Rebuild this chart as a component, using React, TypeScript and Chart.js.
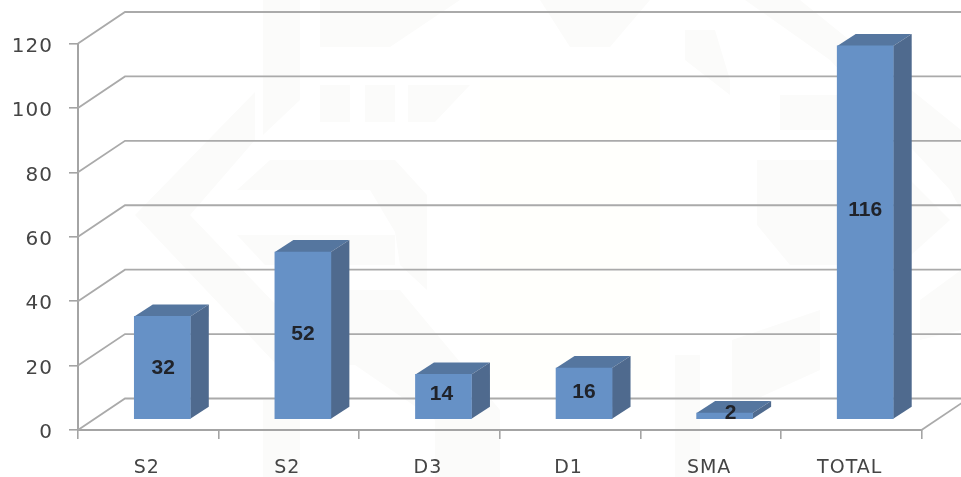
import React, { useEffect, useRef } from "react";
import { Chart, registerables } from "chart.js";

Chart.register(...registerables);

const categories = ["S2", "S2", "D3", "D1", "SMA", "TOTAL"];
const seriesValues = [32, 52, 14, 16, 2, 116];
const yMax = 120;
const yStep = 20;

const COLORS = {
  front: "#6691c6",
  side: "#4f6a8e",
  top: "#55769f",
  grid: "#aaaaaa",
  axis: "#a4a4a4",
  tick: "#454545",
  label: "#20232a",
  mark: "#fbfbfa",
  cream: "#fffffc",
};

const WALL = { dx: 47, dy: -31.5 };
const BAR_SHIFT = { dx: 14, dy: -10.5 };
const BAR_DEPTH = { dx: 18.5, dy: -12 };
const LABEL_NUDGE = [
  [1, 1],
  [0, -1],
  [-2, -2],
  [0, -1],
  [6, -3],
  [0, -22],
];

const watermark: number[][] = [
  [263, 0, 300, 0, 300, 100, 263, 135],
  [320, 0, 460, 0, 390, 47, 320, 47],
  [320, 85, 350, 85, 350, 122, 320, 122],
  [365, 85, 395, 85, 395, 122, 365, 122],
  [408, 85, 470, 85, 435, 122, 408, 122],
  [255, 92, 255, 140, 190, 215, 300, 330, 340, 375, 340, 400, 310, 400, 135, 215],
  [270, 160, 395, 160, 427, 195, 427, 290, 400, 265, 395, 232, 370, 190, 237, 190],
  [237, 235, 395, 235, 395, 265, 265, 265],
  [300, 290, 400, 290, 500, 410, 500, 477, 435, 477, 435, 420, 355, 365, 300, 365],
  [263, 400, 300, 400, 300, 477, 263, 477],
  [685, 0, 745, 0, 830, 60, 950, 190, 961, 210, 961, 130, 800, 0],
  [540, 0, 650, 0, 610, 47, 570, 47],
  [685, 30, 715, 30, 730, 80, 730, 130, 730, 95, 685, 60],
  [780, 95, 840, 95, 840, 130, 780, 130],
  [757, 160, 890, 160, 950, 220, 900, 265, 790, 265, 757, 225],
  [732, 340, 820, 310, 820, 370, 732, 410],
  [675, 355, 700, 355, 700, 477, 675, 477],
  [920, 300, 961, 270, 961, 330, 920, 340],
];

const threeD = {
  id: "threeD",
  beforeDraw(chart: any) {
    const { ctx } = chart;
    ctx.save();
    ctx.fillStyle = COLORS.cream;
    ctx.fillRect(480, 80, 180, 310);
    ctx.fillStyle = COLORS.mark;
    watermark.forEach((p) => {
      ctx.beginPath();
      ctx.moveTo(p[0], p[1]);
      for (let i = 2; i < p.length; i += 2) ctx.lineTo(p[i], p[i + 1]);
      ctx.closePath();
      ctx.fill();
    });
    ctx.restore();
    ctx.letterSpacing = "1px";
  },
  beforeDatasetsDraw(chart: any) {
    const { ctx, scales, chartArea } = chart;
    const y = scales.y;
    ctx.letterSpacing = "0px";
    ctx.save();
    ctx.strokeStyle = COLORS.grid;
    ctx.lineWidth = 1.8;
    y.ticks.forEach((t: any) => {
      const py = y.getPixelForValue(t.value);
      ctx.beginPath();
      ctx.moveTo(chartArea.left, py);
      ctx.lineTo(chartArea.left + WALL.dx, py + WALL.dy);
      ctx.lineTo(chartArea.right + WALL.dx, py + WALL.dy);
      ctx.stroke();
    });
    ctx.beginPath();
    ctx.moveTo(chartArea.right, chartArea.bottom);
    ctx.lineTo(chartArea.right + WALL.dx, chartArea.bottom + WALL.dy);
    ctx.stroke();
    ctx.restore();
  },
  beforeDatasetDraw(chart: any) {
    const { ctx } = chart;
    const bars = chart.getDatasetMeta(0).data;
    ctx.save();
    ctx.translate(BAR_SHIFT.dx, BAR_SHIFT.dy);
    bars.forEach((bar: any) => {
      const p = bar.getProps(["x", "y", "base", "width"], true);
      const l = p.x - p.width / 2;
      const r = p.x + p.width / 2;
      ctx.fillStyle = COLORS.top;
      ctx.beginPath();
      ctx.moveTo(l, p.y);
      ctx.lineTo(l + BAR_DEPTH.dx, p.y + BAR_DEPTH.dy);
      ctx.lineTo(r + BAR_DEPTH.dx, p.y + BAR_DEPTH.dy);
      ctx.lineTo(r, p.y);
      ctx.closePath();
      ctx.fill();
      ctx.fillStyle = COLORS.side;
      ctx.beginPath();
      ctx.moveTo(r, p.y);
      ctx.lineTo(r + BAR_DEPTH.dx, p.y + BAR_DEPTH.dy);
      ctx.lineTo(r + BAR_DEPTH.dx, p.base + BAR_DEPTH.dy);
      ctx.lineTo(r, p.base);
      ctx.closePath();
      ctx.fill();
    });
  },
  afterDatasetDraw(chart: any) {
    chart.ctx.restore();
  },
  afterDatasetsDraw(chart: any) {
    const { ctx } = chart;
    const bars = chart.getDatasetMeta(0).data;
    ctx.save();
    ctx.fillStyle = COLORS.label;
    ctx.font = 'bold 21px "Liberation Sans", sans-serif';
    ctx.textAlign = "center";
    ctx.textBaseline = "middle";
    bars.forEach((bar: any, i: number) => {
      const p = bar.getProps(["x", "y", "base"], true);
      const [nx, ny] = LABEL_NUDGE[i];
      ctx.fillText(
        String(seriesValues[i]),
        p.x + BAR_SHIFT.dx + nx,
        (p.y + p.base) / 2 + BAR_SHIFT.dy + ny
      );
    });
    ctx.restore();
  },
};

export default function App() {
  const ref = useRef<HTMLCanvasElement>(null);
  useEffect(() => {
    const chart = new Chart(ref.current as HTMLCanvasElement, {
      type: "bar",
      data: {
        labels: categories,
        datasets: [
          {
            data: seriesValues,
            backgroundColor: COLORS.front,
            borderWidth: 0,
            barThickness: 56,
            clip: false,
          } as any,
        ],
      },
      plugins: [threeD],
      options: {
        animation: false,
        responsive: false,
        layout: { padding: { top: 43.5, right: 39.5, left: 0, bottom: 0 } },
        plugins: { legend: { display: false }, tooltip: { enabled: false } },
        scales: {
          x: {
            afterFit(s: any) {
              s.height = 47;
            },
            grid: {
              drawOnChartArea: false,
              drawTicks: true,
              tickLength: 9,
              color: COLORS.axis,
              lineWidth: 1.6,
            },
            border: { display: true, color: COLORS.axis, width: 2 },
            ticks: {
              color: COLORS.tick,
              padding: 18,
              labelOffset: -1.5,
              maxRotation: 0,
              font: { family: '"DejaVu Sans", sans-serif', size: 19 },
            },
          },
          y: {
            min: 0,
            max: yMax,
            afterFit(s: any) {
              s.width = 78;
            },
            grid: {
              drawOnChartArea: false,
              drawTicks: true,
              tickLength: 9,
              color: COLORS.axis,
              lineWidth: 1.6,
            },
            border: { display: true, color: COLORS.axis, width: 2 },
            ticks: {
              stepSize: yStep,
              color: COLORS.tick,
              padding: 16,
              labelOffset: 3,
              font: { family: '"DejaVu Sans", sans-serif', size: 20 },
            },
          },
        },
      },
    } as any);
    return () => chart.destroy();
  }, []);
  return (
    <div style={{ position: "fixed", left: 0, top: 0, width: 961, height: 477, background: "#fff", overflow: "hidden" }}>
      <canvas ref={ref} width={961} height={477} style={{ display: "block", filter: "blur(0.55px)" }} />
    </div>
  );
}
